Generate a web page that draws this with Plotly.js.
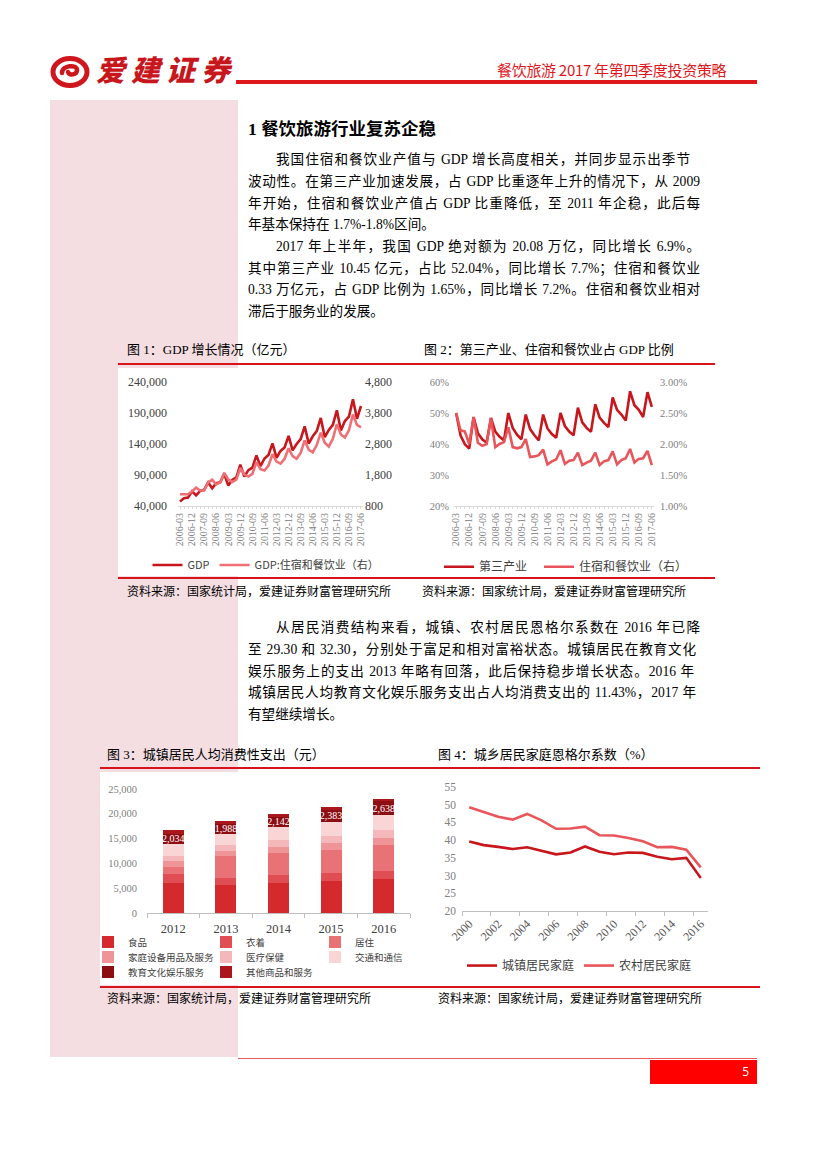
<!DOCTYPE html>
<html><head><meta charset="utf-8">
<script src="https://cdn.plot.ly/plotly-3.0.1.min.js"></script>
<style>
body{margin:0;width:827px;height:1169px;position:relative;background:#fff;font-family:"Liberation Serif","Noto Sans CJK SC",serif;overflow:hidden;color:#000}
.abs{position:absolute}
.ln{position:absolute;left:248px;width:452px;font-size:13.6px;line-height:22px;height:22px;text-align:justify;text-align-last:justify}
.ind{left:276px;width:424px}
.last{text-align-last:left}
.ft{position:absolute;font-size:13px;line-height:16px;white-space:nowrap}
.src{position:absolute;font-size:12px;line-height:16px;white-space:nowrap}
.rl{position:absolute;background:#D7141B;height:1.5px}
</style></head><body>

<!-- header -->
<svg class="abs" style="left:50px;top:56px" width="42" height="32" viewBox="0 0 42 32">
  <ellipse cx="20" cy="16" rx="17" ry="13.5" fill="none" stroke="#D0161D" stroke-width="5"/>
  <path d="M12 17 C12 9,27 8,27 14 C27 19,19 20,18 16" fill="none" stroke="#D0161D" stroke-width="4.5" stroke-linecap="round"/>
</svg>
<div class="abs" style="left:96px;top:50px;font-family:'Noto Sans CJK SC';font-weight:900;font-size:29px;letter-spacing:6px;color:#C8161D;font-style:italic;line-height:36px">爱建证券</div>
<div class="abs" style="left:236px;top:80px;width:521px;height:3.5px;background:#E0161D"></div>
<div class="abs" style="left:497px;top:60px;font-family:'Noto Sans CJK SC';font-size:15px;color:#E0161D;line-height:20px;white-space:nowrap;letter-spacing:-0.3px">餐饮旅游 2017 年第四季度投资策略</div>

<!-- pink sidebar -->
<div class="abs" style="left:50px;top:100px;width:188px;height:957px;background:#F4DEE2"></div>

<!-- section heading -->
<div class="abs" style="left:248px;top:116px;font-size:17.5px;font-weight:bold;line-height:24px;white-space:nowrap">1 <span style="font-family:'Noto Sans CJK SC'">餐饮旅游行业复苏企稳</span></div>

<div class="ln ind" style="top:149px;width:414px">我国住宿和餐饮业产值与 GDP 增长高度相关，并同步显示出季节</div>
<div class="ln" style="top:171px">波动性。在第三产业加速发展，占 GDP 比重逐年上升的情况下，从 2009</div>
<div class="ln" style="top:193px">年开始，住宿和餐饮业产值占 GDP 比重降低，至 2011 年企稳，此后每</div>
<div class="ln last" style="top:214px">年基本保持在 1.7%-1.8%区间。</div>
<div class="ln ind" style="top:236px">2017 年上半年，我国 GDP 绝对额为 20.08 万亿，同比增长 6.9%。</div>
<div class="ln" style="top:258px">其中第三产业 10.45 亿元，占比 52.04%，同比增长 7.7%；住宿和餐饮业</div>
<div class="ln" style="top:279px">0.33 万亿元，占 GDP 比例为 1.65%，同比增长 7.2%。住宿和餐饮业相对</div>
<div class="ln last" style="top:301px">滞后于服务业的发展。</div>

<!-- figure row 1 -->
<div class="ft" style="left:127px;top:342px">图 1：GDP 增长情况（亿元）</div>
<div class="ft" style="left:424px;top:342px">图 2：第三产业、住宿和餐饮业占 GDP 比例</div>
<div class="rl" style="left:118px;top:363px;width:597px"></div>
<div class="abs" style="left:118px;top:368px;width:300px;height:208px;background:#fff"></div>
<div id="c1" class="abs" style="left:118px;top:368px;width:300px;height:208px"></div>
<div id="c2" class="abs" style="left:415px;top:368px;width:300px;height:208px"></div>
<div class="rl" style="left:118px;top:577px;width:597px"></div>
<div class="src" style="left:127px;top:584px">资料来源：国家统计局，爱建证券财富管理研究所</div>
<div class="src" style="left:422px;top:584px">资料来源：国家统计局，爱建证券财富管理研究所</div>

<div class="ln ind" style="top:617px">从居民消费结构来看，城镇、农村居民恩格尔系数在 2016 年已降</div>
<div class="ln" style="top:639px;width:448px">至 29.30 和 32.30，分别处于富足和相对富裕状态。城镇居民在教育文化</div>
<div class="ln" style="top:661px;width:446px">娱乐服务上的支出 2013 年略有回落，此后保持稳步增长状态。2016 年</div>
<div class="ln" style="top:682px;width:448px">城镇居民人均教育文化娱乐服务支出占人均消费支出的 11.43%，2017 年</div>
<div class="ln last" style="top:704px">有望继续增长。</div>

<!-- figure row 2 -->
<div class="ft" style="left:107px;top:747px">图 3：城镇居民人均消费性支出（元）</div>
<div class="ft" style="left:438px;top:747px">图 4：城乡居民家庭恩格尔系数（%）</div>
<div class="rl" style="left:100px;top:767px;width:660px"></div>
<div class="abs" style="left:100px;top:772px;width:330px;height:213px;background:#fff"></div>
<div id="c3" class="abs" style="left:80px;top:772px;width:350px;height:213px"></div>
<div id="c4" class="abs" style="left:430px;top:772px;width:330px;height:213px"></div>
<div class="rl" style="left:100px;top:986px;width:660px"></div>
<div class="src" style="left:107px;top:991px">资料来源：国家统计局，爱建证券财富管理研究所</div>
<div class="src" style="left:438px;top:991px">资料来源：国家统计局，爱建证券财富管理研究所</div>

<!-- footer -->
<div class="abs" style="left:238px;top:1058px;width:519px;height:1px;background:#E8585E"></div>
<div class="abs" style="left:650px;top:1060px;width:107px;height:24px;background:#FF0000;color:#fff;font-family:'Open Sans';font-size:12px;line-height:24px;text-align:right;box-sizing:border-box;padding-right:8px">5</div>

<script>
// ---------- data ----------
const quarters = ['2006-03','2006-06','2006-09','2006-12','2007-03','2007-06','2007-09','2007-12',
 '2008-03','2008-06','2008-09','2008-12','2009-03','2009-06','2009-09','2009-12',
 '2010-03','2010-06','2010-09','2010-12','2011-03','2011-06','2011-09','2011-12',
 '2012-03','2012-06','2012-09','2012-12','2013-03','2013-06','2013-09','2013-12',
 '2014-03','2014-06','2014-09','2014-12','2015-03','2015-06','2015-09','2015-12',
 '2016-03','2016-06','2016-09','2016-12','2017-03','2017-06'];
const gdp = [47100,52700,53600,63700, 57200,64400,66100,78000,
 68500,76800,78100,92000, 72900,82000,86000,106700,
 87300,97900,101900,121700, 104200,116600,122300,141000,
 117600,128800,134400,153000, 129700,140000,148000,168500,
 140600,152400,160700,182000, 151000,162700,170800,194300,
 161600,177000,184000,212000, 180700,201300];
const hotelValue = [1180,1170,1180,1275, 1390,1300,1300,1560,
 1645,1500,1560,1870, 1655,1575,1650,2025,
 1815,1750,1835,2215, 1990,1945,2105,2470,
 2235,2165,2325,2660, 2410,2325,2515,2915,
 2615,2530,2765,3165, 2840,2715,2970,3440,
 3105,3010,3240,3750, 3415,3340];
const tertiaryShare = [50.0,42.8,39.9,38.5, 48.7,43.5,41.5,40.4,
 48.4,44.0,42.3,41.2, 50.0,45.2,43.0,41.5,
 49.5,44.8,42.8,41.2, 49.5,45.0,43.2,42.0,
 50.0,45.8,44.0,42.8, 51.7,47.0,45.2,43.9,
 52.8,48.5,46.8,45.5, 55.0,51.0,49.5,47.6,
 57.0,52.5,51.0,48.7, 56.7,52.0];
const hotelShare = [2.50,2.22,2.20,2.00, 2.43,2.02,1.97,2.00,
 2.41,1.95,2.00,2.03, 2.27,1.95,1.93,1.95,
 2.08,1.79,1.80,1.82, 1.91,1.67,1.72,1.75,
 1.90,1.68,1.73,1.74, 1.86,1.66,1.70,1.73,
 1.86,1.66,1.72,1.74, 1.88,1.67,1.74,1.77,
 1.92,1.70,1.76,1.77, 1.89,1.66];

const spendYears = ['2012','2013','2014','2015','2016'];
const spendNames = ['食品','衣着','居住','家庭设备用品及服务','医疗保健','交通和通信','教育文化娱乐服务','其他商品和服务'];
const food      = [6041,5571,6000,6360,6762];
const clothing  = [1823,1554,1627,1701,1739];
const housing   = [1484,4301,4490,4726,5114];
const household = [1116,1129,1233,1306,1427];
const medical   = [1064,1136,1306,1443,1631];
const transport = [2456,2318,2637,2895,3174];
const education = [2034,1988,2142,2383,2638];
const others    = [657,490,533,578,595];

const engelYears = [2000,2001,2002,2003,2004,2005,2006,2007,2008,2009,2010,2011,2012,2013,2014,2015,2016];
const urbanEngel = [39.6,38.6,38.1,37.5,38.0,36.9,36.0,36.5,38.2,36.7,36.0,36.5,36.4,35.3,34.6,35.0,29.3];
const ruralEngel = [49.3,48.0,46.6,45.8,47.4,45.6,43.2,43.3,43.8,41.4,41.3,40.6,39.7,38.0,38.1,37.3,32.3];

// ---------- style ----------
const DARK = '#C8161D', PINK = '#EE7074', PINK2 = '#E8555A';
const serif = 'Liberation Serif';
const cjk = 'Noto Sans CJK SC';
const cfg = {staticPlot:true, displayModeBar:false};
const legendBox = (x, y, size) => ({orientation:'h', x:x, xanchor:'left', y:y, yanchor:'middle',
  font:{family:cjk, size:size, color:'#404040'}, bgcolor:'rgba(0,0,0,0)', traceorder:'normal'});

// ---------- chart 1 ----------
const qTickText = quarters.map((q,i)=> i%3===0 ? q : '');
const qAxis = {type:'category', tickmode:'array', tickvals:quarters, ticktext:qTickText, tickangle:-90,
    tickfont:{family:serif, size:10, color:'#808080'}, showline:true, linecolor:'#d9d9d9',
    ticks:'outside', ticklen:2, tickcolor:'#d9d9d9', showgrid:false, range:[-0.5,45.5]};
Plotly.newPlot('c1', [
  {x:quarters, y:gdp, type:'scatter', mode:'lines', name:'GDP', line:{color:DARK, width:2.6}},
  {x:quarters, y:hotelValue, yaxis:'y2', type:'scatter', mode:'lines', name:'GDP:住宿和餐饮业（右）', line:{color:PINK, width:2.6}}
], {
  width:300, height:208, margin:{l:60,r:55,t:14,b:70,autoexpand:false},
  paper_bgcolor:'rgba(0,0,0,0)', plot_bgcolor:'rgba(0,0,0,0)',
  showlegend:true,
  legend:legendBox(-0.165, -0.476, 11),
  xaxis:qAxis,
  yaxis:{range:[40000,240000], tick0:40000, dtick:50000, tickformat:',d', showgrid:false, zeroline:false,
    ticklabelstandoff:10, tickfont:{family:serif, size:12, color:'#404040'}},
  yaxis2:{overlaying:'y', side:'right', range:[800,4800], tick0:800, dtick:1000, tickformat:',d', showgrid:false, zeroline:false,
    ticklabelstandoff:1, tickfont:{family:serif, size:12, color:'#404040'}}
}, cfg);

// ---------- chart 2 ----------
Plotly.newPlot('c2', [
  {x:quarters, y:tertiaryShare, type:'scatter', mode:'lines', name:'第三产业', line:{color:DARK, width:2.6}, legend:'legend'},
  {x:quarters, y:hotelShare, yaxis:'y2', type:'scatter', mode:'lines', name:'住宿和餐饮业（右）', line:{color:PINK2, width:2.6}, legend:'legend2'}
], {
  width:300, height:208, margin:{l:39,r:61,t:14,b:70,autoexpand:false},
  paper_bgcolor:'rgba(0,0,0,0)', plot_bgcolor:'rgba(0,0,0,0)',
  showlegend:true,
  legend:legendBox(-0.075, -0.49, 12),
  legend2:legendBox(0.425, -0.49, 12),
  xaxis:qAxis,
  yaxis:{range:[20,60], tick0:20, dtick:10, ticksuffix:'%', showgrid:false, zeroline:false,
    ticklabelstandoff:4, tickfont:{family:serif, size:10.5, color:'#808080'}},
  yaxis2:{overlaying:'y', side:'right', range:[1,3], tick0:1, dtick:0.5, tickformat:'.2f', ticksuffix:'%', showgrid:false, zeroline:false,
    ticklabelstandoff:5, tickfont:{family:serif, size:10.5, color:'#808080'}}
}, cfg);

// ---------- chart 3 ----------
const spendSeries = [food, clothing, housing, household, medical, transport, education, others];
const spendColors = ['#D42A2E','#E04D53','#E97276','#EF9598','#F5B8BA','#F9D5D6','#8C0D12','#A9171D'];
const legendIds = ['legend','legend2','legend3','legend4','legend5','legend6','legend7','legend8'];
const colPx = [88, 206, 315], rowPx = [942, 957, 972];
const plotL = 147, plotW = 263, plotB = 913, plotH = 124;
const layout3 = {
  width:350, height:213, margin:{l:67,r:20,t:17,b:72,autoexpand:false},
  paper_bgcolor:'rgba(0,0,0,0)', plot_bgcolor:'rgba(0,0,0,0)',
  barmode:'stack', bargap:0.6, showlegend:true,
  xaxis:{type:'category', showline:true, linecolor:'#bfbfbf', ticks:'outside', tickson:'boundaries', ticklen:4, tickcolor:'#bfbfbf',
    ticklabelstandoff:4, tickfont:{family:serif, size:12.5, color:'#404040'}, showgrid:false},
  yaxis:{range:[0,25000], tick0:0, dtick:5000, tickformat:',d', showgrid:false, zeroline:false,
    ticklabelstandoff:9, tickfont:{family:serif, size:10.5, color:'#808080'}}
};
const barTraces = spendSeries.map((vals,i)=>{
  const t = {x:spendYears, y:vals, type:'bar', name:spendNames[i], marker:{color:spendColors[i]}, legend:legendIds[i]};
  if (spendNames[i]==='教育文化娱乐服务') {
    t.texttemplate = '%{y:,}'; t.textposition = 'inside'; t.insidetextanchor = 'middle';
    t.textangle = 0; t.constraintext = 'none';
    t.textfont = {family:serif, size:10, color:'#fff'};
  }
  const col = i % 3, row = Math.floor(i / 3);
  layout3[legendIds[i]] = legendBox((colPx[col]-plotL)/plotW, -(rowPx[row]-plotB)/plotH, 9.5);
  return t;
});
Plotly.newPlot('c3', barTraces, layout3, cfg);

// ---------- chart 4 ----------
Plotly.newPlot('c4', [
  {x:engelYears, y:urbanEngel, type:'scatter', mode:'lines', name:'城镇居民家庭', line:{color:DARK, width:2.6}},
  {x:engelYears, y:ruralEngel, type:'scatter', mode:'lines', name:'农村居民家庭', line:{color:PINK2, width:2.6}}
], {
  width:330, height:213, margin:{l:32,r:52,t:15,b:74,autoexpand:false},
  paper_bgcolor:'rgba(0,0,0,0)', plot_bgcolor:'rgba(0,0,0,0)',
  showlegend:true,
  legend:legendBox(0, -0.44, 12),
  xaxis:{range:[1999.5,2016.5], tickmode:'linear', tick0:2000, dtick:2, tickangle:-45, ticks:'', showline:true, linecolor:'#bfbfbf',
    minor:{tickmode:'linear', tick0:1999.5, dtick:2, ticks:'outside', ticklen:4, tickcolor:'#bfbfbf', showgrid:false},
    tickfont:{family:serif, size:12, color:'#595959'}, showgrid:false, zeroline:false},
  yaxis:{range:[20,55], tick0:20, dtick:5, showgrid:false, zeroline:false,
    ticklabelstandoff:5, tickfont:{family:serif, size:11.5, color:'#808080'}}
}, cfg);
</script>
</body></html>
